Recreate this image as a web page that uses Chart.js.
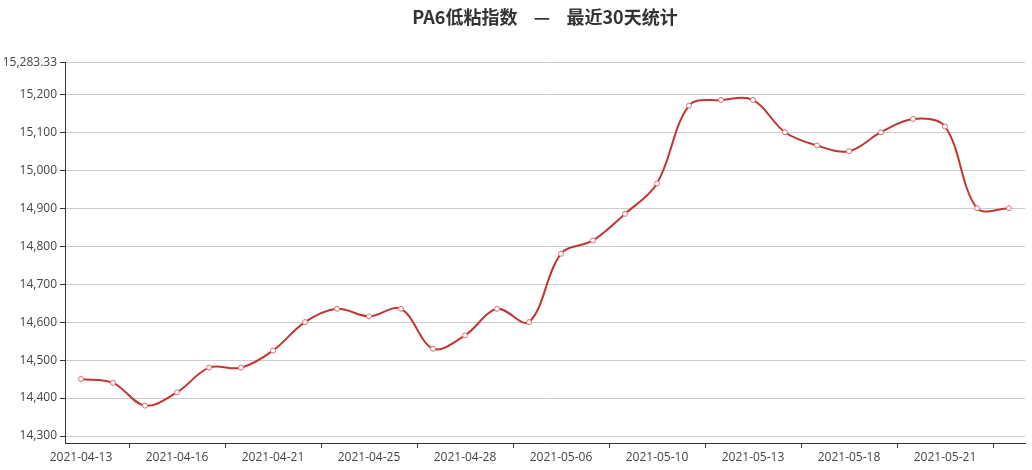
<!DOCTYPE html>
<html>
<head>
<meta charset="utf-8">
<script src="https://cdn.jsdelivr.net/npm/chart.js@4/dist/chart.umd.min.js"></script>
<style>
  html, body { margin: 0; padding: 0; background: #fff; }
  #wrap { width: 1032px; height: 470px; }
</style>
</head>
<body>
<div id="wrap"><canvas id="pa6Chart" width="1032" height="470"></canvas></div>
<script>
// trading days shown on the x axis
const dates = ['2021-04-13', '2021-04-14', '2021-04-15', '2021-04-16', '2021-04-19', '2021-04-20',
  '2021-04-21', '2021-04-22', '2021-04-23', '2021-04-25', '2021-04-26', '2021-04-27',
  '2021-04-28', '2021-04-29', '2021-04-30', '2021-05-06', '2021-05-07', '2021-05-08',
  '2021-05-10', '2021-05-11', '2021-05-12', '2021-05-13', '2021-05-14', '2021-05-17',
  '2021-05-18', '2021-05-19', '2021-05-20', '2021-05-21', '2021-05-24', '2021-05-25'];
// PA6 low-viscosity index values
const indexValues = [14450, 14440, 14380, 14415, 14480, 14480, 14525, 14600, 14635, 14615,
  14635, 14530, 14565, 14635, 14600, 14780, 14815, 14885, 14965, 15170,
  15185, 15185, 15100, 15065, 15050, 15100, 15135, 15115, 14900, 14900];
// y axis ticks
const yMin = 14281.67;
const yMax = 15283.33;
const yTicks = [14300, 14400, 14500, 14600, 14700, 14800, 14900, 15000, 15100, 15200, 15283.33];

const fontFamily = "'Open Sans', 'Noto Sans CJK SC', sans-serif";
const titleFont = "'Noto Sans CJK SC', sans-serif";
const axisColor = '#333';

const ctx = document.getElementById('pa6Chart').getContext('2d');
new Chart(ctx, {
  type: 'line',
  data: {
    labels: dates,
    datasets: [{
      label: 'PA6低粘指数',
      data: indexValues,
      borderColor: '#c23531',
      borderWidth: 2,
      tension: 0.35,
      pointRadius: 2.5,
      pointBorderWidth: 1,
      pointBackgroundColor: '#fff',
      pointBorderColor: '#d9706d',
      fill: false
    }]
  },
  options: {
    responsive: false,
    animation: false,
    layout: { padding: { left: 0, right: 7, top: 0, bottom: 0 } },
    plugins: {
      legend: { display: false },
      tooltip: { enabled: false },
      title: {
        display: true,
        fullSize: false,
        text: 'PA6低粘指数    —    最近30天统计',
        color: axisColor,
        font: { family: titleFont, size: 18, weight: 'bold' },
        padding: { top: 6, bottom: 35 }
      }
    },
    scales: {
      x: {
        offset: true,
        grid: {
          offset: true,
          drawOnChartArea: false,
          tickLength: 5,
          tickColor: c => (c.index % 3 === 2 ? axisColor : 'rgba(0,0,0,0)')
        },
        border: { color: axisColor, width: 1 },
        ticks: {
          autoSkip: false,
          maxRotation: 0,
          padding: 2,
          color: '#444',
          font: { family: fontFamily, size: 12 },
          callback: function(v, i) { return i % 3 === 0 ? dates[i] : ''; }
        },
        afterFit: s => { s.height = 27; }
      },
      y: {
        min: yMin,
        max: yMax,
        afterBuildTicks: s => { s.ticks = yTicks.map(v => ({ value: v })); },
        grid: { color: '#ccc', tickColor: axisColor, tickLength: 5 },
        border: { color: axisColor, width: 1 },
        ticks: {
          color: '#444',
          padding: 3,
          font: { family: fontFamily, size: 12 },
          callback: v => v.toLocaleString('en-US', { maximumFractionDigits: 2 })
        },
        afterFit: s => { s.width = 65; }
      }
    }
  }
});
</script>
</body>
</html>
